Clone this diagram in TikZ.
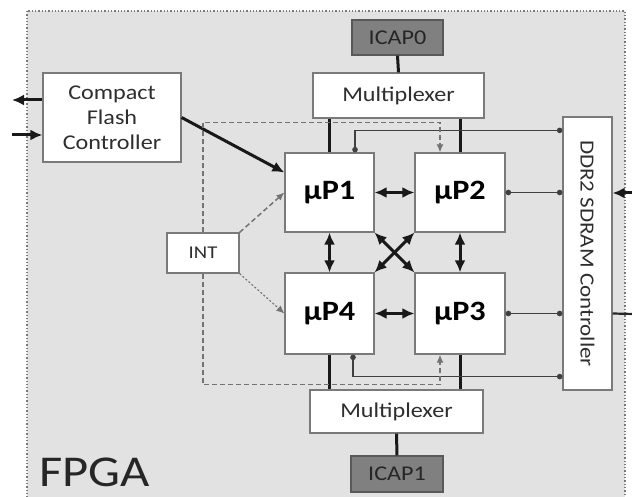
\documentclass[tikz,border=0pt]{standalone}
\usepackage{fontspec}
\setmainfont[FakeStretch=1.15]{Carlito}
\usetikzlibrary{arrows.meta}
\usetikzlibrary{calc}

\definecolor{fpgabg}{HTML}{E2E2E2}
\definecolor{boxline}{HTML}{7A7A7A}
\definecolor{icapfill}{HTML}{808080}
\definecolor{txtgray}{HTML}{2E2E2E}

\tikzset{
	block/.style={draw=boxline,fill=white,line width=1.2pt,inner sep=0pt,text=txtgray,font=\fontsize{21}{25}\selectfont,align=center},
	cpu/.style={block,text=black,font=\fontsize{28}{30}\selectfont\bfseries},
	icap/.style={block,fill=icapfill,draw=gray!70!black,text=black!85},
	bus/.style={line width=3pt,black!90},
	link/.style={bus,{Latex[length=12pt,width=11pt]}-{Latex[length=12pt,width=11pt]}},
	memline/.style={line width=1.5pt,black!75,{Circle[length=5.5pt]}-{Circle[length=5.5pt]}},
	irq/.style={line width=1.5pt,black!55,dashed,dash pattern=on 5pt off 3pt,-{Latex[length=8pt,width=7pt]}}
}

\begin{document}
\begin{tikzpicture}[x=1pt,y=-1pt]
	\useasboundingbox (0,0) rectangle (632,497);
	%FPGA area
	\fill[fpgabg] (27,11) rectangle (625,505);
	\draw[boxline,line width=1.3pt,dotted] (27,11) rectangle (625,505);
	\node[anchor=west,text=black!85,font=\fontsize{44}{48}\selectfont] (fpga) at (36,472) {FPGA};
	
	%blocks
	\node[block,minimum width=138,minimum height=89] (cf) at (112,117.5) {Compact\\Flash\\Controller};
	\node[icap,minimum width=91,minimum height=35] (icap0) at (397.5,37.5) {ICAP0};
	\node[block,minimum width=171,minimum height=45] (muxtop) at (398.5,95.5) {Multiplexer};
	\node[cpu,minimum width=89,minimum height=79] (up1) at (329.5,192.5) {µP1};
	\node[cpu,minimum width=90,minimum height=79] (up2) at (460,192.5) {µP2};
	\node[cpu,minimum width=89,minimum height=81] (up4) at (329.5,313.5) {µP4};
	\node[cpu,minimum width=90,minimum height=81] (up3) at (460,313.5) {µP3};
	\node[block,minimum width=173,minimum height=43] (muxbot) at (396.5,411.5) {Multiplexer};
	\node[icap,minimum width=92,minimum height=36] (icap1) at (397,474) {ICAP1};
	\node[block,minimum width=72,minimum height=40,font=\fontsize{18}{20}\selectfont] (int) at (203,253) {INT};
	\node[block,minimum width=49,minimum height=273,font=\fontsize{20}{24}\selectfont] (ddr) at (587.5,253.5) {\rotatebox{-90}{DDR2 SDRAM Controller}};
	
	%ICAP and multiplexers
	\draw[bus] (icap0.south) -- (muxtop.north);
	\draw[bus] (icap1.north) -- (muxbot.south);
	\draw[bus] (up1.north) -- (up1.north |- muxtop.south);
	\draw[bus] (up2.north) -- (up2.north |- muxtop.south);
	\draw[bus] (up4.south) -- (up4.south |- muxbot.north);
	\draw[bus] (up3.south) -- (up3.south |- muxbot.north);
	
	%processor links
	\draw[link] (up1.east) -- (up2.west);
	\draw[link] (up4.east) -- (up3.west);
	\draw[link] (up1.south) -- (up4.north);
	\draw[link] (up2.south) -- (up3.north);
	\draw[link] (up1.south east) -- (up3.north west);
	\draw[link] (up2.south west) -- (up4.north east);
	
	%compact flash
	\coordinate (cfout) at (12,100);
	\coordinate (cfin) at (12,135);
	\draw[bus,-{Latex[length=12pt,width=11pt]}] ($(cf.west)+(0,-17.5)$) -- (cfout);
	\draw[bus,-{Latex[length=12pt,width=11pt]}] (cfin) -- ($(cf.west)+(0,17.5)$);
	\draw[bus,-{Latex[length=12pt,width=11pt]}] (cf.east) -- ($(up1.west)+(0,-20)$);
	
	%memory
	\draw[memline] ($(ddr.north west)+(0,14)$) -| ($(up1.north)+(25.5,0)$);
	\draw[memline] (up2.east) -- (up2.east -| ddr.west);
	\draw[memline] (up3.east) -- (up3.east -| ddr.west);
	\draw[memline] ($(ddr.south west)+(0,-14)$) -| ($(up4.south)+(23.5,0)$);
	\coordinate (extin) at (634,193);
	\coordinate (extout) at (634,314);
	\draw[bus,-{Latex[length=12pt,width=11pt]}] (extin) -- (extin -| ddr.east);
	\draw[line width=2.2pt,black!85] (up3.east -| ddr.east) -- (extout);
	
	%interrupts
	\draw[irq] (int.north) |- ($(up2.north)+(-20,-30)$) -- ($(up2.north)+(-20,0)$);
	\draw[irq] (int.south) |- ($(up3.south)+(-20,30)$) -- ($(up3.south)+(-20,0)$);
	\draw[irq] (int.north east) -- (up1.west);
	\draw[irq,dash pattern=on 2pt off 2pt,line width=1.1pt] (int.south east) -- (up4.west);
\end{tikzpicture}
\end{document}
